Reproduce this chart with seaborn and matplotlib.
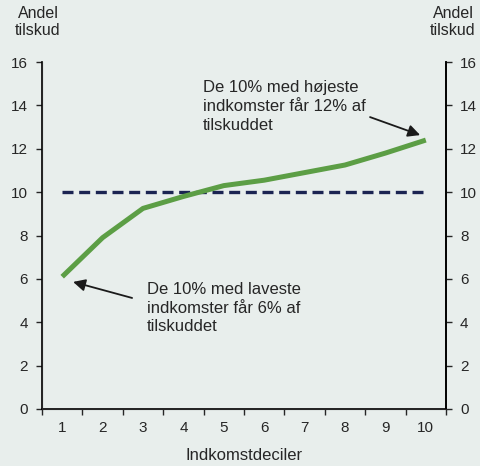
import matplotlib
matplotlib.use("Agg")
import matplotlib.pyplot as plt
import seaborn as sns
import pandas as pd
import numpy as np
from matplotlib.ticker import FixedLocator

deciles = [1, 2, 3, 4, 5, 6, 7, 8, 9, 10]
share = [6.1, 7.9, 9.25, 9.8, 10.3, 10.55, 10.9, 11.25, 11.8, 12.4]
equal_share = [10] * 10
yticks = [0, 2, 4, 6, 8, 10, 12, 14, 16]

sns.set_style("white")
plt.rcParams['font.family'] = ['Liberation Sans', 'DejaVu Sans']

bg = "#e8eeec"
fig = plt.figure(figsize=(4.81, 4.66), dpi=100, facecolor=bg)
ax = fig.add_axes([42/481, 1-409/466, (446-42)/481, (409-62)/466])
ax.set_facecolor(bg)

df = pd.DataFrame({"decil": deciles, "andel": share, "lige": equal_share})
sns.lineplot(data=df, x="decil", y="lige", ax=ax, color="#1b2452", lw=2.4,
             linestyle=(0, (3.3, 1.7)))
sns.lineplot(data=df, x="decil", y="andel", ax=ax, color="#5c9e45", lw=3.6,
             solid_capstyle="butt")

ax.set_xlim(0.5, 10.5)
ax.set_ylim(0, 16)
ax.set_yticks(yticks)
ax.set_xticks(deciles)
ax.xaxis.set_minor_locator(FixedLocator(np.arange(0.5, 11, 1)))
ax.tick_params(axis="x", which="major", length=0, pad=9, labelsize=11)
ax.tick_params(axis="x", which="minor", length=4, width=1, direction="out", bottom=True)
ax.tick_params(axis="y", length=4, width=1, direction="out", left=True, labelsize=11, pad=6)
ax.set_xlabel("Indkomstdeciler", fontsize=12, labelpad=9)
ax.set_ylabel("")
for s in ["left", "right", "bottom"]:
    ax.spines[s].set_color("black")
    ax.spines[s].set_linewidth(1.2)
ax.spines["top"].set_visible(False)

ax2 = ax.twinx()
ax2.set_ylim(0, 16)
ax2.set_yticks(yticks)
ax2.tick_params(axis="y", length=4, width=1, direction="out", right=True, labelsize=11, pad=6)
ax2.spines["top"].set_visible(False)
ax2.spines["right"].set_linewidth(1.2)
ax2.spines["right"].set_color("black")

fig.text(38/481, 1-22/466, "Andel\ntilskud", ha="center", va="center", fontsize=11.5, linespacing=1.2)
fig.text(453/481, 1-22/466, "Andel\ntilskud", ha="center", va="center", fontsize=11.5, linespacing=1.2)

ax.annotate("", xy=(9.86, 12.63), xytext=(8.62, 13.46),
            arrowprops=dict(arrowstyle="-|>", color="#1a1a1a", lw=1.3, mutation_scale=18,
                            shrinkA=0, shrinkB=0))
ax.text(4.49, 15.15, "De 10% med højeste\nindkomster får 12% af\ntilskuddet", fontsize=12,
        ha="left", va="top", linespacing=1.3)

ax.annotate("", xy=(1.27, 5.86), xytext=(2.73, 5.12),
            arrowprops=dict(arrowstyle="-|>", color="#1a1a1a", lw=1.3, mutation_scale=18,
                            shrinkA=0, shrinkB=0))
ax.text(3.1, 5.85, "De 10% med laveste\nindkomster får 6% af\ntilskuddet", fontsize=12,
        ha="left", va="top", linespacing=1.3)

fig.savefig("out.png", dpi=100, facecolor=bg)
